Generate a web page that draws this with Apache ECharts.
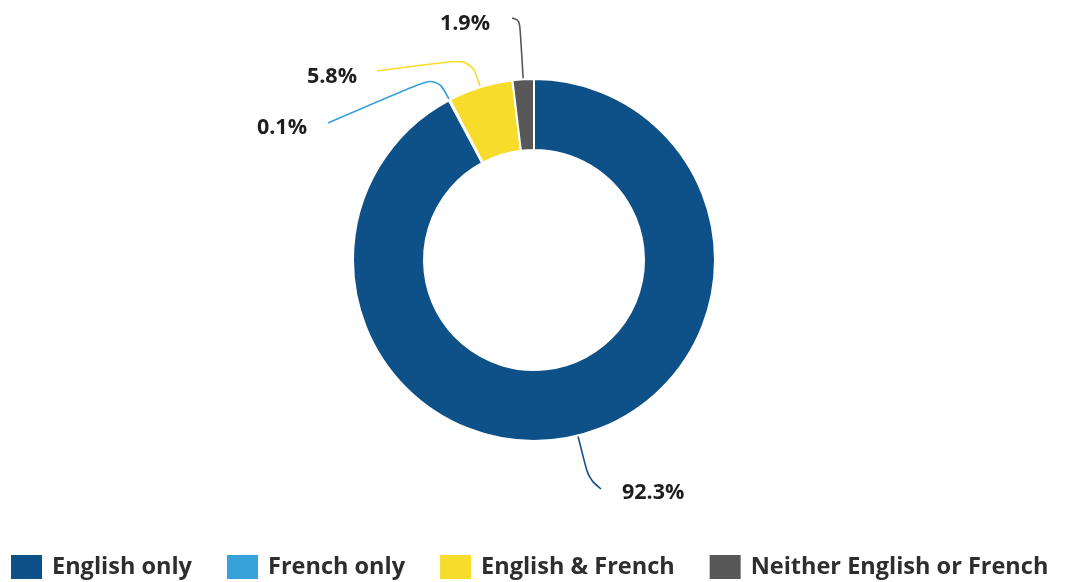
<!DOCTYPE html>
<html>
<head>
<meta charset="utf-8">
<style>
  html, body { margin: 0; padding: 0; background: #ffffff; }
  #chart { width: 1069px; height: 582px; }
</style>
<script src="https://cdn.jsdelivr.net/npm/echarts@6/dist/echarts.min.js"></script>
</head>
<body>
<div id="chart"></div>
<script>
// Language groups and their share of the population (%)
const categories = ['English only', 'French only', 'English & French', 'Neither English or French'];
const shares = [92.3, 0.1, 5.8, 1.9];
const colors = ['#0e5189', '#37a2da', '#f7dc2b', '#585858'];

// Where each value label sits, and how far its leader line runs out from the ring
const labelSpots = [
  { x: 622, y: 493, align: 'left',  elbow: 44, end: [601, 489] },
  { x: 307, y: 128, align: 'right', elbow: 27, end: [328, 123] },
  { x: 357, y: 77,  align: 'right', elbow: 30, end: [377, 71] },
  { x: 490, y: 24,  align: 'right', elbow: 59, end: [512, 18] }
];

const chart = echarts.init(document.getElementById('chart'), null, { renderer: 'canvas' });

const fontFamily = '"Open Sans", "Noto Sans", sans-serif';

chart.setOption({
  backgroundColor: '#ffffff',
  animation: false,
  color: colors,
  legend: {
    data: categories,
    left: 11,
    top: 555,
    padding: 0,
    orient: 'horizontal',
    icon: 'rect',
    itemWidth: 31,
    itemHeight: 24,
    itemGap: 35,
    itemStyle: { borderWidth: 0 },
    textStyle: {
      fontFamily: fontFamily,
      fontSize: 23.5,
      fontWeight: 'bold',
      color: '#2e2e2e',
      padding: [0, 0, 0, 5]
    }
  },
  series: [{
    type: 'pie',
    center: ['534px', '260px'],
    radius: [110, 181],
    startAngle: 90,
    clockwise: true,
    avoidLabelOverlap: false,
    itemStyle: { borderColor: '#ffffff', borderWidth: 2 },
    label: {
      show: true,
      position: 'outside',
      formatter: '{c}%',
      fontFamily: fontFamily,
      fontSize: 21.5,
      fontWeight: 'bold',
      color: '#1e1e1e'
    },
    labelLine: {
      show: true,
      length: 20,
      length2: 10,
      smooth: 0.35,
      lineStyle: { width: 1.6 }
    },
    labelLayout: function (params) {
      const spot = labelSpots[params.dataIndex];
      const pts = params.labelLinePoints;
      const out = { x: spot.x, y: spot.y, align: spot.align, verticalAlign: 'middle' };
      if (pts && pts.length >= 2) {
        const p0 = pts[0];
        const dx = pts[1][0] - p0[0];
        const dy = pts[1][1] - p0[1];
        const len = Math.sqrt(dx * dx + dy * dy) || 1;
        const elbow = [p0[0] + dx / len * spot.elbow, p0[1] + dy / len * spot.elbow];
        out.labelLinePoints = [p0.slice(), elbow, spot.end.slice()];
      }
      return out;
    },
    data: categories.map((name, i) => ({ name: name, value: shares[i] }))
  }]
});
</script>
</body>
</html>
